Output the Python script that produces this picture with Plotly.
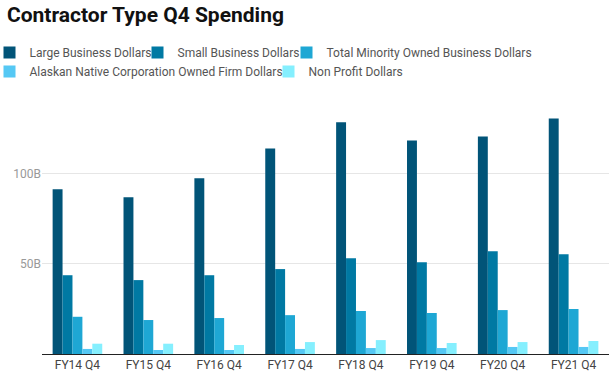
import plotly.graph_objects as go

categories = ["FY14 Q4", "FY15 Q4", "FY16 Q4", "FY17 Q4", "FY18 Q4", "FY19 Q4", "FY20 Q4", "FY21 Q4"]
large_business = [91.2, 86.7, 97.2, 113.8, 128.2, 118.2, 120.4, 130.4]
small_business = [43.6, 40.9, 43.6, 47.0, 53.0, 50.8, 56.9, 55.2]
minority_owned = [20.6, 18.8, 19.9, 21.5, 23.8, 22.7, 24.3, 24.9]
alaskan_native = [2.8, 2.2, 2.2, 2.8, 3.3, 3.3, 3.9, 3.9]
non_profit = [5.7, 5.7, 5.0, 6.6, 7.7, 6.1, 6.6, 7.2]

series_names = ["Large Business Dollars", "Small Business Dollars", "Total Minority Owned Business Dollars",
                "Alaskan Native Corporation Owned Firm Dollars", "Non Profit Dollars"]
series_values = [large_business, small_business, minority_owned, alaskan_native, non_profit]
colors = ["#015478", "#0079a3", "#1ea7d4", "#55c8f4", "#85effe"]

y_tick_vals = [50, 100]
y_tick_text = ["50B", "100B"]

W, H = 616, 386
ML, MR, MT, MB = 42, 7, 92, 32
plot_w = W - ML - MR
plot_h = H - MT - MB

# legend entry placement (pixel left of legend box, pixel top of legend box)
legend_pos = [(-10.5, 38), (137.5, 38), (286.5, 38), (-10.5, 57), (268.5, 57)]

fig = go.Figure()
legend_layouts = {}
for i, (name, vals, c) in enumerate(zip(series_names, series_values, colors)):
    key = "legend" if i == 0 else f"legend{i+1}"
    fig.add_trace(go.Bar(x=categories, y=vals, name=name, legend=key,
                         marker=dict(color=c, line=dict(width=0))))
    px, py = legend_pos[i]
    legend_layouts[key] = dict(
        orientation="h", x=(px - ML) / plot_w, xanchor="left",
        y=1 + (MT - py) / plot_h, yanchor="top",
        font=dict(family="Roboto", size=12, color="#555"),
        itemwidth=30, bgcolor="rgba(0,0,0,0)")

fig.update_layout(
    width=W, height=H,
    paper_bgcolor="white", plot_bgcolor="white",
    font=dict(family="Roboto", size=12, color="#555"),
    title=dict(text="<b>Contractor Type Q4 Spending</b>", x=7/W, xanchor="left", xref="container",
               y=1-7/H, yanchor="top", yref="container",
               font=dict(family="Roboto", size=21, color="#111")),
    barmode="group", bargap=0.3, bargroupgap=0,
    margin=dict(l=ML, r=MR, t=MT, b=MB, autoexpand=False),
    showlegend=True,
    xaxis=dict(showline=True, linecolor="#222", linewidth=1, ticks="",
               tickfont=dict(family="Roboto", size=12, color="#444"), showgrid=False),
    yaxis=dict(range=[0, 145], tickvals=y_tick_vals, ticktext=y_tick_text, showgrid=True,
               gridcolor="#e6e6e6", zeroline=False, showline=False,
               tickfont=dict(family="Roboto", size=12, color="#999")),
    **legend_layouts,
)

fig.write_html("out.html", config={"displayModeBar": False},
               post_script="document.body.style.margin='0';")
